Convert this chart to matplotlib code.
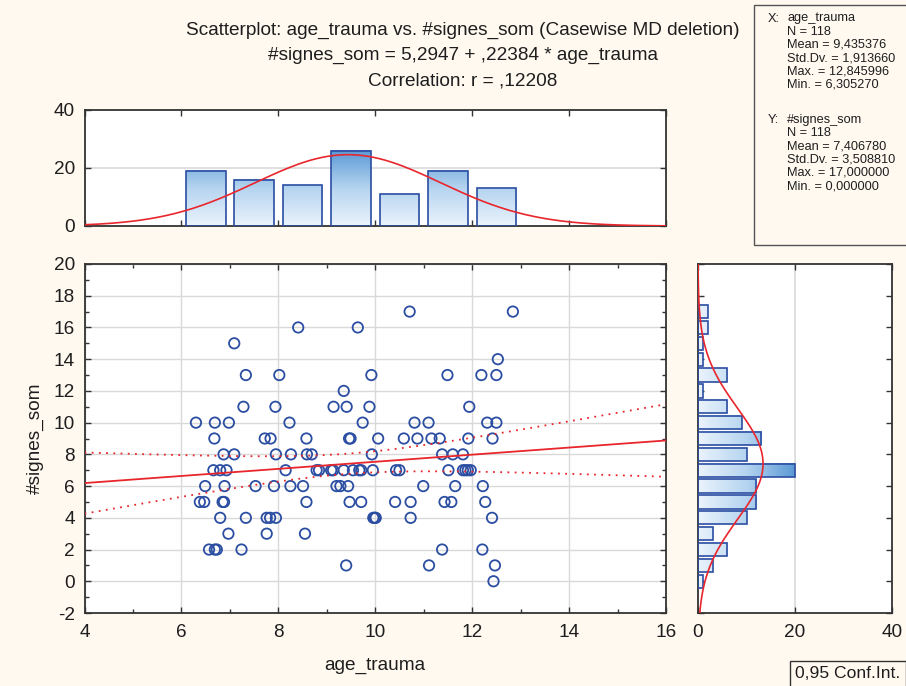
import numpy as np
import matplotlib.pyplot as plt
from matplotlib.colors import LinearSegmentedColormap
from matplotlib.patches import Rectangle
from matplotlib.ticker import MultipleLocator

plt.rcParams['font.family'] = ['Liberation Sans', 'DejaVu Sans']
plt.rcParams['axes.unicode_minus'] = False

# cases, one line per #signes_som value
age_trauma = [10.71, 12.84,
              8.41, 9.64,
              7.09,
              12.53,
              7.33, 8.02, 9.92, 11.49, 12.19, 12.50,
              9.35,
              7.28, 7.94, 9.14, 9.41, 9.88, 11.94,
              6.30, 6.69, 6.98, 8.23, 9.74, 10.81, 11.10, 12.31, 12.50,
              6.68, 7.72, 7.84, 8.58, 9.46, 9.49, 10.06, 10.59, 10.87, 11.16, 11.33, 11.92, 12.42,
              6.87, 7.09, 7.95, 8.26, 8.59, 8.69, 9.93, 11.38, 11.60, 11.81,
              6.66, 6.80, 6.93, 8.15, 8.79, 8.84, 9.09, 9.13, 9.35, 9.54, 9.67, 9.71, 9.95,
              10.43, 10.50, 11.51, 11.81, 11.86, 11.91, 11.97,
              6.49, 6.89, 7.53, 7.91, 8.25, 8.51, 9.20, 9.28, 9.44, 10.99, 11.65, 12.22,
              6.38, 6.47, 6.85, 6.88, 8.58, 9.47, 9.71, 10.41, 10.73, 11.43, 11.57, 12.27,
              6.80, 7.33, 7.76, 7.83, 7.95, 9.96, 9.99, 10.01, 10.73, 12.41,
              6.97, 7.76, 8.55,
              6.57, 6.69, 6.73, 7.24, 11.38, 12.21,
              9.40, 11.11, 12.47,
              12.44]
signes_som = [17, 17,
              16, 16,
              15,
              14,
              13, 13, 13, 13, 13, 13,
              12,
              11, 11, 11, 11, 11, 11,
              10, 10, 10, 10, 10, 10, 10, 10, 10,
              9, 9, 9, 9, 9, 9, 9, 9, 9, 9, 9, 9, 9,
              8, 8, 8, 8, 8, 8, 8, 8, 8, 8,
              7, 7, 7, 7, 7, 7, 7, 7, 7, 7, 7, 7, 7,
              7, 7, 7, 7, 7, 7, 7,
              6, 6, 6, 6, 6, 6, 6, 6, 6, 6, 6, 6,
              5, 5, 5, 5, 5, 5, 5, 5, 5, 5, 5, 5,
              4, 4, 4, 4, 4, 4, 4, 4, 4, 4,
              3, 3, 3,
              2, 2, 2, 2, 2, 2,
              1, 1, 1,
              0]

# histogram counts as drawn
x_bins = [6.5, 7.5, 8.5, 9.5, 10.5, 11.5, 12.5]
x_counts = [19, 16, 14, 26, 11, 19, 13]
y_bins = [0, 1, 2, 3, 4, 5, 6, 7, 8, 9, 10, 11, 12, 13, 14, 15, 16, 17]
y_counts = [1, 3, 6, 3, 10, 12, 12, 20, 10, 13, 9, 6, 1, 6, 1, 1, 2, 2]

# summary statistics shown on the chart
n = 118
mean_x, sd_x, max_x, min_x = 9.435376, 1.913660, 12.845996, 6.305270
mean_y, sd_y, max_y, min_y = 7.406780, 3.508810, 17.0, 0.0
intercept, slope, r = 5.2947, 0.22384, 0.12208
t_crit = 1.9806

BG = '#fff9f0'
RED = '#e8262c'
BLUE = '#2b4ea2'
SPINE = '#333333'
GRID = '#d9d9d9'
TXT = '#1e1e1e'
FS = 13.7
cmap = LinearSegmentedColormap.from_list('bars', ['#eaf3fc', '#b5d4f0', '#5c9ad6'])

W, H = 906, 686
fig = plt.figure(figsize=(W / 100, H / 100), dpi=100, facecolor=BG)


def box(l, t, r_, b):
    return [l / W, 1 - b / H, (r_ - l) / W, (b - t) / H]


def style(ax):
    ax.set_facecolor('white')
    for s in ax.spines.values():
        s.set_color(SPINE)
        s.set_linewidth(1.3)
    ax.tick_params(which='both', direction='in', top=True, right=True,
                   colors=SPINE, labelcolor=TXT, labelsize=FS)
    ax.tick_params(which='major', length=4, width=1)
    ax.tick_params(which='minor', length=3, width=1)
    ax.tick_params(axis='x', pad=8)
    ax.tick_params(axis='y', pad=7)


# --- scatter
ax = fig.add_axes(box(84.5, 264, 666, 613))
style(ax)
ax.set_xlim(4, 16)
ax.set_ylim(-2, 20)
ax.xaxis.set_major_locator(MultipleLocator(2))
ax.xaxis.set_minor_locator(MultipleLocator(1))
ax.yaxis.set_major_locator(MultipleLocator(2))
ax.yaxis.set_minor_locator(MultipleLocator(1))
ax.grid(True, which='major', color=GRID, lw=1)
ax.set_axisbelow(True)
ax.scatter(age_trauma, signes_som, s=56, facecolors='none', edgecolors=BLUE,
           linewidths=1.3, zorder=3)

xs = np.linspace(4, 16, 200)
fit = intercept + slope * xs
s_res = sd_y * np.sqrt((1 - r ** 2) * (n - 1) / (n - 2))
sxx = (n - 1) * sd_x ** 2
half = t_crit * s_res * np.sqrt(1 / n + (xs - mean_x) ** 2 / sxx)
ax.plot(xs, fit, color=RED, lw=1.3, zorder=4)
ax.plot(xs, fit + half, color=RED, lw=1.3, ls=(0, (1, 3)), zorder=4)
ax.plot(xs, fit - half, color=RED, lw=1.3, ls=(0, (1, 3)), zorder=4)

# --- top histogram
axt = fig.add_axes(box(84.5, 110, 666, 226))
style(axt)
axt.set_xlim(4, 16)
axt.set_ylim(0, 40)
axt.set_yticks([0, 20, 40])
axt.xaxis.set_major_locator(MultipleLocator(2))
axt.tick_params(axis='x', labelbottom=False)
axt.axhline(20, color=GRID, lw=1.2, zorder=0)
bw = 0.82
for c, h in zip(x_bins, x_counts):
    g = np.linspace(0, h / max(x_counts), 64).reshape(-1, 1)
    axt.imshow(g, extent=[c - bw / 2, c + bw / 2, 0, h], origin='lower', cmap=cmap,
               vmin=0, vmax=1, aspect='auto', zorder=2)
axt.bar(x_bins, x_counts, width=bw, facecolor='none', edgecolor=BLUE, lw=1.2, zorder=3)
axt.set_xlim(4, 16)
axt.set_ylim(0, 40)
axt.set_aspect('auto')
gx = n * 1.0 / (sd_x * np.sqrt(2 * np.pi)) * np.exp(-0.5 * ((xs - mean_x) / sd_x) ** 2)
axt.plot(xs, gx, color=RED, lw=1.2, zorder=4)

# --- right histogram
axr = fig.add_axes(box(698, 264, 892, 613))
style(axr)
axr.set_ylim(-2, 20)
axr.set_xlim(0, 40)
axr.set_xticks([0, 20, 40])
axr.yaxis.set_major_locator(MultipleLocator(2))
axr.tick_params(axis='y', labelleft=False)
axr.axvline(20, color=GRID, lw=1.2, zorder=0)
bh = 0.84
for c, w in zip(y_bins, y_counts):
    g = np.linspace(0, w / max(y_counts), 64).reshape(1, -1)
    axr.imshow(g, extent=[0, w, c - bh / 2, c + bh / 2], origin='lower', cmap=cmap,
               vmin=0, vmax=1, aspect='auto', zorder=2)
axr.barh(y_bins, y_counts, height=bh, facecolor='none', edgecolor=BLUE, lw=1.2, zorder=3)
axr.set_ylim(-2, 20)
axr.set_xlim(0, 40)
axr.set_aspect('auto')
ys = np.linspace(-2, 20, 200)
gy = n * 1.0 / (sd_y * np.sqrt(2 * np.pi)) * np.exp(-0.5 * ((ys - mean_y) / sd_y) ** 2)
axr.plot(gy, ys, color=RED, lw=1.2, zorder=4)

# --- titles and labels
tkw = dict(ha='center', va='center', fontsize=FS, color=TXT)
fig.text(463 / W, 1 - 30 / H, 'Scatterplot: age_trauma vs. #signes_som (Casewise MD deletion)', **tkw)
fig.text(463 / W, 1 - 55.5 / H, '#signes_som = 5,2947 + ,22384 * age_trauma', **tkw)
fig.text(463 / W, 1 - 81 / H, 'Correlation: r = ,12208', **tkw)
fig.text(375 / W, 1 - 665 / H, 'age_trauma', **tkw)
fig.text(35 / W, 1 - 438 / H, '#signes_som', rotation=90, **tkw)

# --- descriptive statistics box
fig.patches.append(Rectangle((754 / W, 1 - 245 / H), 160 / W, 240 / H, transform=fig.transFigure,
                             facecolor=BG, edgecolor='#555555', lw=1))


def fmt(v):
    return f'{v:.6f}'.replace('.', ',')


skw = dict(ha='left', va='center', fontsize=9.2, color=TXT)
blocks = [('X:', 'age_trauma', mean_x, sd_x, max_x, min_x, 18.5),
          ('Y:', '#signes_som', mean_y, sd_y, max_y, min_y, 120)]
for tag, name, m, sd, mx, mn, top in blocks:
    fig.text(768 / W, 1 - top / H, tag, **skw)
    fig.text(787 / W, 1 - top / H, name, **skw)
    lines = [f'N = {n}', f'Mean = {fmt(m)}', f'Std.Dv. = {fmt(sd)}',
             f'Max. = {fmt(mx)}', f'Min. = {fmt(mn)}']
    for i, s in enumerate(lines):
        fig.text(787 / W, 1 - (top + 13.2 * (i + 1)) / H, s, **skw)

fig.text(795 / W, 1 - 674 / H, '0,95 Conf.Int.', ha='left', va='center', fontsize=12.6,
         color=TXT,
         bbox=dict(boxstyle='square,pad=0.3', facecolor=BG, edgecolor='#333333', lw=1))

fig.savefig('out.png', dpi=100, facecolor=BG)
